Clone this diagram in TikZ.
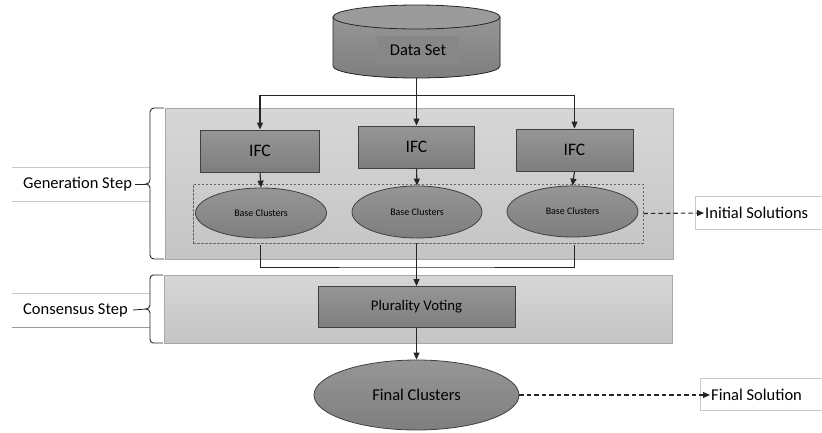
\documentclass[tikz,border=0pt]{standalone}
\usepackage{fontspec}
\setmainfont{Carlito}
\usetikzlibrary{arrows.meta,shapes.geometric}

\definecolor{panelfill}{HTML}{CFCFCF}
\definecolor{paneledge}{HTML}{A8A8A8}
\definecolor{boxtop}{HTML}{969696}
\definecolor{boxbot}{HTML}{7E7E7E}
\definecolor{boxedge}{HTML}{404040}
\definecolor{labedge}{HTML}{C8C8C8}

\tikzset{
  panel/.style={draw=paneledge, line width=0.8pt, top color=panelfill!85!white, bottom color=panelfill!95!black, minimum width=#1},
  panel/.default=508pt,
  procbox/.style={draw=boxedge, line width=0.9pt, top color=boxtop, bottom color=boxbot, inner sep=0pt},
  cluster/.style={ellipse, draw=boxedge, line width=0.8pt, top color=boxtop, bottom color=boxbot, inner sep=0pt},
  groupbox/.style={draw=black!60, dashed, dash pattern=on 2.5pt off 1.5pt, line width=0.7pt, inner sep=0pt},
  link/.style={line width=1.1pt, black!85},
  arr/.style={link, -{Triangle[length=7pt,width=6pt]}},
  darr/.style={arr, dash pattern=on 4.5pt off 3pt},
  bracestyle/.style={line width=0.9pt, black!85},
  labline/.style={draw=labedge, line width=0.8pt},
  bigtext/.style={font=\fontsize{16.5}{19}\selectfont},
}

\begin{document}
\begin{tikzpicture}[x=1pt, y=-1pt, bigtext]
\useasboundingbox (0,0) rectangle (822,432);

% stage panels
\node[panel, minimum height=151pt] (gen) at (419,183.5) {};
\node[panel, minimum height=68pt] (cons) at (418.5,309) {};

% data set cylinder
\filldraw[draw=black!85, line width=0.8pt, top color=boxtop, bottom color=boxbot]
  (333,17) -- (333,66) arc[start angle=180, end angle=0, x radius=83.5, y radius=12] -- (500,17) -- cycle;
\filldraw[draw=black!85, line width=0.8pt, fill=boxtop!95!white] (416.5,17) ellipse[x radius=83.5, y radius=12];
\node[fill=boxtop!90!black, minimum width=82pt, minimum height=29pt] (ds) at (418,50) {\fontsize{16.5}{19}\selectfont Data Set};
\coordinate (dsbot) at (416.5,78);

% generation stage
\node[procbox, minimum width=119pt, minimum height=42pt] (ifc1) at (260,151) {\fontsize{17.5}{20}\selectfont IFC};
\node[procbox, minimum width=116pt, minimum height=42pt] (ifc2) at (416.5,147) {\fontsize{17.5}{20}\selectfont IFC};
\node[procbox, minimum width=117pt, minimum height=42pt] (ifc3) at (574.5,150) {\fontsize{17.5}{20}\selectfont IFC};

\node[groupbox, minimum width=450pt, minimum height=59pt] (group) at (418,213.5) {};
\node[cluster, minimum width=131pt, minimum height=50pt] (bc1) at (261,213) {\fontsize{10}{12}\selectfont Base Clusters};
\node[cluster, minimum width=130pt, minimum height=52pt] (bc2) at (417,212) {\fontsize{10}{12}\selectfont Base Clusters};
\node[cluster, minimum width=131pt, minimum height=51pt] (bc3) at (572.5,211.5) {\fontsize{10}{12}\selectfont Base Clusters};

% consensus stage and result
\node[procbox, minimum width=197pt, minimum height=41pt] (pv) at (416.5,307) {\fontsize{14.8}{17}\selectfont Plurality Voting};
\node[cluster, minimum width=205pt, minimum height=70pt] (fc) at (416.5,395) {\fontsize{16.5}{19}\selectfont Final Clusters};

% outputs
\draw[labline] (822,196) -- (695,196) -- (695,229) -- (822,229);
\node[anchor=west, inner sep=1pt] (initsol) at (704,213) {Initial Solutions};
\draw[labline] (822,378) -- (700,378) -- (700,410) -- (822,410);
\node[anchor=west, inner sep=1pt] (finsol) at (710,395) {Final Solution};

% stage labels with braces
\draw[labline] (12,167) -- (150,167);
\draw[labline] (12,201) -- (150,201);
\node[anchor=west, inner sep=1pt] (genlab) at (22,184) {Generation Step};
\draw[labline] (12,293) -- (150,293);
\draw[labline, draw=black!40] (12,327) -- (150,327);
\node[anchor=west, inner sep=1pt] (conslab) at (22,310) {Consensus Step};

\draw[bracestyle] (164,108) -- (154,108) to[out=180, in=90] (150,112) -- (150,180)
  to[out=270, in=0] (146,184) to[out=0, in=90] (150,188) -- (150,255)
  to[out=270, in=180] (154,259) -- (164,259);
\coordinate (gentip) at (146,184);
\draw[bracestyle] (163,275) -- (153,275) to[out=180, in=90] (150,279) -- (150,305)
  to[out=270, in=0] (146,309) to[out=0, in=90] (150,313) -- (150,339)
  to[out=270, in=180] (153,343) -- (163,343);
\coordinate (constip) at (146,309);
\draw[link, line width=0.8pt] ([xshift=2pt]genlab.east) -- (gentip);
\draw[link, line width=0.8pt] ([xshift=4pt]conslab.east) -- (constip);

% data flow
\coordinate (split) at (416.5,95);
\draw[arr] (dsbot) -- (ifc2.north);
\draw[link, line width=0.9pt] (split -| ifc1.north) -- (split -| ifc3.north);
\draw[arr] (split -| ifc1.north) -- (ifc1.north);
\draw[arr] (split -| ifc3.north) -- (ifc3.north);

\draw[arr] (ifc1.south) -- (bc1.north);
\draw[arr] (ifc2.south) -- (bc2.north);
\draw[arr] (ifc3.south) -- (bc3.north);

\coordinate (merge) at (416.5,267);
\draw[link, line width=0.8pt] ([yshift=-2pt]group.south -| ifc1.south) |- (merge) -| ([yshift=-2pt]group.south -| ifc3.south);
\draw[arr] (group.south -| pv.north) -- (pv.north);
\draw[arr] (pv.south) -- (fc.north);

\draw[darr] (group.east) -- (initsol.west);
\draw[darr] (fc.east) -- (finsol.west);
\end{tikzpicture}
\end{document}
